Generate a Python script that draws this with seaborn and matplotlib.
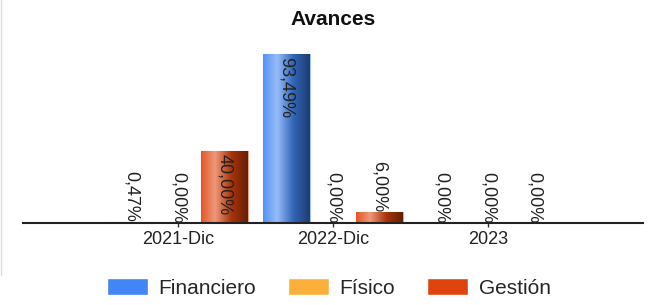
import numpy as np
import pandas as pd
import seaborn as sns
import matplotlib.pyplot as plt
from matplotlib.colors import LinearSegmentedColormap, to_rgb
from matplotlib.lines import Line2D

# Chart data
periods = ["2021-Dic", "2022-Dic", "2023"]
series = ["Financiero", "Físico", "Gestión"]
financiero = [0.47, 93.49, 0.00]
fisico = [0.00, 0.00, 0.00]
gestion = [40.00, 6.00, 0.00]
colors = ["#4285F4", "#FBB03B", "#E0440E"]

df = pd.DataFrame({
    "periodo": periods * 3,
    "serie": [s for s in series for _ in periods],
    "valor": financiero + fisico + gestion,
})

sns.set_theme(style="white")
plt.rcParams["font.family"] = ["Liberation Sans", "DejaVu Sans"]

fig = plt.figure(figsize=(6.49, 3.05), dpi=100)
ax = fig.add_axes([0.0354, 0.269, 0.9554, 0.593])

sns.barplot(data=df, x="periodo", y="valor", hue="serie", order=periods,
            hue_order=series, palette=colors, width=0.9, ax=ax,
            saturation=1, errorbar=None)


def mix(c, other, t):
    c = np.array(to_rgb(c))
    return tuple(c * (1 - t) + np.array(other) * t)


# gradient fill on each bar, like the original renderer
for patch in ax.patches:
    h = patch.get_height()
    if h <= 0 or patch.get_width() <= 0:
        continue
    base = patch.get_facecolor()[:3]
    cmap = LinearSegmentedColormap.from_list("g", [
        (0.0, mix(base, (1, 1, 1), 0.1)),
        (0.3, mix(base, (1, 1, 1), 0.45)),
        (0.65, mix(base, (0, 0, 0), 0.25)),
        (1.0, mix(base, (0, 0, 0), 0.55)),
    ])
    x0 = patch.get_x()
    x1 = x0 + patch.get_width()
    grad = np.linspace(0, 1, 256).reshape(1, -1)
    im = ax.imshow(grad, extent=[x0, x1, 0, h], aspect="auto", cmap=cmap,
                   zorder=patch.get_zorder() + 0.1, interpolation="bilinear")
    im.set_clip_path(patch)
    patch.set_edgecolor(mix(base, (1, 1, 1), 0.5))
    patch.set_linewidth(0.8)

# value labels, rotated, inside tall bars, above short ones
for container, s in zip(ax.containers, series):
    for bar, v in zip(container, df.loc[df["serie"] == s, "valor"]):
        xc = bar.get_x() + bar.get_width() / 2
        txt = f"{v:.2f}".replace(".", ",") + "%"
        if v > 35:
            ax.text(xc, v - 2, txt, rotation=270, ha="center", va="top",
                    fontsize=13, color="#222222", zorder=5)
        else:
            ax.text(xc, v, txt, rotation=270, ha="center", va="bottom",
                    fontsize=13, color="#222222", zorder=5)

ax.set_xlim(-1, 3)
ax.set_ylim(0, 100)
ax.set_yticks([])
ax.set_xlabel("")
ax.set_ylabel("")
ax.tick_params(axis="x", length=3, width=1, color="#333333", labelsize=13,
               pad=3, labelcolor="#222222", bottom=True)
for side in ["top", "left", "right"]:
    ax.spines[side].set_visible(False)
ax.spines["bottom"].set_linewidth(1.5)
ax.spines["bottom"].set_color("#222222")

ax.set_title("Avances", fontsize=15, fontweight="bold", pad=12, color="#111111")

sns.move_legend(ax, "center", bbox_to_anchor=(0.493, -0.36), ncol=3,
                frameon=False, title=None, fontsize=15, handlelength=2.0,
                handleheight=0.85, handletextpad=0.5, columnspacing=1.5)

fig.add_artist(Line2D([0.002, 0.002], [0.098, 1.0], color="#dddddd", lw=1))

fig.savefig("out.png", dpi=100)
